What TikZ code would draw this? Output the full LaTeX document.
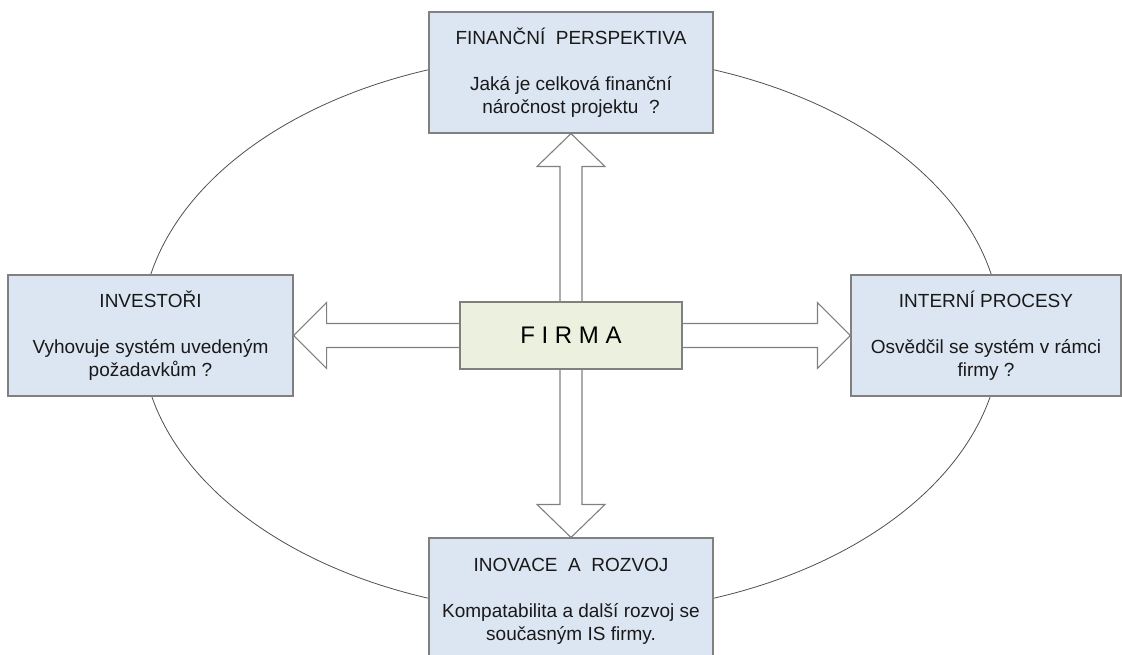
\documentclass[tikz,border=0pt]{standalone}
\usepackage{fontspec}
\setmainfont{Liberation Sans}
\usetikzlibrary{calc,backgrounds}
\definecolor{boxblue}{HTML}{DCE6F2}
\definecolor{boxgreen}{HTML}{EBF1DE}
\definecolor{edgegray}{HTML}{808080}
\definecolor{ringgray}{HTML}{505050}
\tikzset{
  box/.style={draw=edgegray, fill=boxblue, line width=1.1pt, inner sep=0pt,
    minimum height=121pt, align=center, font=\fontsize{19}{23}\selectfont, text=black!90},
  firmabox/.style={draw=edgegray, fill=boxgreen, line width=1.1pt, inner sep=0pt,
    minimum width=222pt, minimum height=67pt, font=\fontsize{24}{28}\selectfont},
  arr/.style={draw=edgegray, fill=white, line width=1.1pt, line join=miter},
  ring/.style={draw=ringgray, line width=0.8pt}
}
\begin{document}
\begin{tikzpicture}[x=1pt,y=-1pt]
\useasboundingbox (0,0) rectangle (1122,655);
\clip (0,0) rectangle (1122,655);
% boxes
\node[box, minimum width=284pt] (fin) at (571,72.5)
  {FINANČNÍ~~PERSPEKTIVA\\[23pt] Jaká je celková finanční\\ náročnost projektu~~?};
\node[box, minimum width=285pt] (inv) at (150.5,335.5)
  {INVESTOŘI\\[23pt] Vyhovuje systém uvedeným\\ požadavkům ?};
\node[box, minimum width=270pt] (int) at (986,335.5)
  {INTERNÍ PROCESY\\[23pt] Osvědčil se systém v rámci\\ firmy ?};
\node[box, minimum width=284pt, minimum height=127pt] (ino) at (571,601.5)
  {INOVACE~~A~~ROZVOJ\\[23pt] Kompatabilita a další rozvoj se\\ současným IS firmy.};
\node[firmabox] (firma) at (571,335.5) {F I R M A};
\begin{scope}[on background layer]
  \fill[white] (0,0) rectangle (1122,655);
  \draw[ring] (571,334) ellipse [x radius=430pt, y radius=280pt];
  % up arrow
  \draw[arr] ($(firma.north)+(-11,0)$) -- ($(fin.south)+(-11,33)$) -- ($(fin.south)+(-34,33)$)
    -- (fin.south) -- ($(fin.south)+(34,33)$) -- ($(fin.south)+(11,33)$) -- ($(firma.north)+(11,0)$);
  % down arrow
  \draw[arr] ($(firma.south)+(-11,0)$) -- ($(ino.north)+(-11,-33)$) -- ($(ino.north)+(-34,-33)$)
    -- (ino.north) -- ($(ino.north)+(34,-33)$) -- ($(ino.north)+(11,-33)$) -- ($(firma.south)+(11,0)$);
  % left arrow
  \draw[arr] ($(firma.west)+(0,-12)$) -- ($(inv.east)+(33,-12)$) -- ($(inv.east)+(33,-33)$)
    -- (inv.east) -- ($(inv.east)+(33,33)$) -- ($(inv.east)+(33,12)$) -- ($(firma.west)+(0,12)$);
  % right arrow
  \draw[arr] ($(firma.east)+(0,-12)$) -- ($(int.west)+(-33,-12)$) -- ($(int.west)+(-33,-33)$)
    -- (int.west) -- ($(int.west)+(-33,33)$) -- ($(int.west)+(-33,12)$) -- ($(firma.east)+(0,12)$);
\end{scope}
\end{tikzpicture}
\end{document}
